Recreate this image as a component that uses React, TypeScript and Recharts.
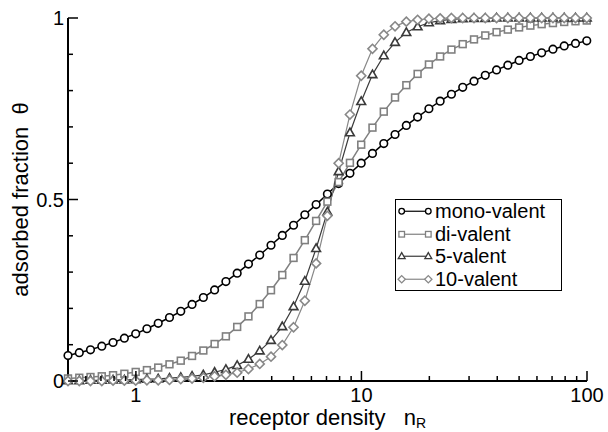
import React from 'react';
import { LineChart, Line, XAxis, YAxis, Legend } from 'recharts';

// receptor density n_R (log-spaced sample points)
const receptorDensity = [
    0.5, 0.561, 0.629, 0.706, 0.792, 0.889, 0.998, 1.119, 1.256, 1.409,
    1.581, 1.774, 1.991, 2.233, 2.506, 2.812, 3.155, 3.54, 3.972, 4.457,
    5.0, 5.61, 6.295, 7.063, 7.924, 8.891, 9.976, 11.19, 12.56, 14.09,
    15.81, 17.74, 19.91, 22.33, 25.06, 28.12, 31.55, 35.4, 39.72, 44.57,
    50.0, 56.1, 62.95, 70.63, 79.24, 88.91, 99.76,
];

const monoValent = [
    0.070, 0.078, 0.086, 0.096, 0.106, 0.118, 0.130, 0.144, 0.159, 0.175,
    0.192, 0.211, 0.230, 0.251, 0.274, 0.297, 0.322, 0.347, 0.374, 0.401,
    0.429, 0.458, 0.486, 0.515, 0.544, 0.572, 0.600, 0.627, 0.654, 0.679,
    0.704, 0.727, 0.750, 0.771, 0.790, 0.809, 0.826, 0.842, 0.857, 0.870,
    0.883, 0.894, 0.904, 0.914, 0.923, 0.930, 0.937,
];

const diValent = [
    0.007, 0.009, 0.011, 0.013, 0.016, 0.020, 0.025, 0.030, 0.037, 0.046,
    0.056, 0.069, 0.084, 0.102, 0.123, 0.149, 0.178, 0.212, 0.250, 0.292,
    0.339, 0.388, 0.441, 0.494, 0.548, 0.601, 0.651, 0.698, 0.742, 0.781,
    0.815, 0.846, 0.872, 0.894, 0.913, 0.928, 0.941, 0.952, 0.961, 0.968,
    0.974, 0.979, 0.983, 0.986, 0.989, 0.991, 0.993,
];

const fiveValent = [
    0.001, 0.001, 0.002, 0.002, 0.003, 0.003, 0.004, 0.005, 0.006, 0.008,
    0.010, 0.013, 0.017, 0.024, 0.032, 0.043, 0.060, 0.083, 0.112, 0.150,
    0.205, 0.275, 0.365, 0.466, 0.577, 0.684, 0.770, 0.844, 0.896, 0.933,
    0.960, 0.976, 0.987, 0.993, 0.996, 0.998, 0.999, 0.999, 1, 1,
    1, 1, 1, 1, 1, 1, 1,
];

const tenValent = [
    0, 0, 0, 0, 0.001, 0.001, 0.001, 0.002, 0.002, 0.003,
    0.005, 0.007, 0.009, 0.013, 0.017, 0.023, 0.033, 0.047, 0.067, 0.099,
    0.148, 0.221, 0.324, 0.455, 0.600, 0.734, 0.841, 0.915, 0.954, 0.977,
    0.990, 0.995, 0.998, 0.999, 1, 1, 1, 1, 1, 1,
    1, 1, 1, 1, 1, 1, 1,
];

const seriesNames = ['mono-valent', 'di-valent', '5-valent', '10-valent'];

const xTicks = [0.6, 0.7, 0.8, 0.9, 1, 2, 3, 4, 5, 6, 7, 8, 9, 10, 20, 30, 40, 50, 60, 70, 80, 90, 100];
const xMajorTicks = [1, 10, 100];
const yTicks = [0, 0.1, 0.2, 0.3, 0.4, 0.5, 0.6, 0.7, 0.8, 0.9, 1];
const yMajorTicks = [0, 0.5, 1];

const FONT = '"Liberation Sans", Arial, Helvetica, sans-serif';

const data = receptorDensity.map((x, i) => ({
    x,
    mono: monoValent[i],
    di: diValent[i],
    v5: fiveValent[i],
    v10: tenValent[i],
}));

const series = [
    { key: 'mono', name: seriesNames[0], color: '#000000', width: 1.5, shape: 'circle' },
    { key: 'di', name: seriesNames[1], color: '#808080', width: 1.5, shape: 'square' },
    { key: 'v5', name: seriesNames[2], color: '#3a3a3a', width: 1.2, shape: 'triangle' },
    { key: 'v10', name: seriesNames[3], color: '#888888', width: 1.2, shape: 'diamond' },
];

function marker(shape: string, cx: number, cy: number, s: number, color: string, sw: number, key: string) {
    if (cx == null || cy == null) return <g key={key} />;
    switch (shape) {
        case 'circle':
            return <circle key={key} cx={cx} cy={cy} r={s} fill="#fff" stroke={color} strokeWidth={sw} />;
        case 'square':
            return <rect key={key} x={cx - s} y={cy - s} width={2 * s} height={2 * s} fill="#fff" stroke={color} strokeWidth={sw} />;
        case 'triangle':
            return (
                <polygon
                    key={key}
                    points={`${cx},${cy - s * 1.2} ${cx - s * 1.15},${cy + s * 0.8} ${cx + s * 1.15},${cy + s * 0.8}`}
                    fill="#fff"
                    stroke={color}
                    strokeWidth={sw}
                />
            );
        default:
            return (
                <polygon
                    key={key}
                    points={`${cx},${cy - s * 1.3} ${cx + s * 1.3},${cy} ${cx},${cy + s * 1.3} ${cx - s * 1.3},${cy}`}
                    fill="#fff"
                    stroke={color}
                    strokeWidth={sw}
                />
            );
    }
}

const plotSize: Record<string, number> = { circle: 3.8, square: 3.4, triangle: 3.8, diamond: 3.5 };
const legendSize: Record<string, number> = { circle: 2.8, square: 2.8, triangle: 3, diamond: 2.8 };

const BottomTick = (props: any) => {
    const { x, y, payload } = props;
    const major = xMajorTicks.includes(payload.value);
    return (
        <g>
            <line x1={x} x2={x} y1={y} y2={y - (major ? 10 : 5)} stroke="#000" strokeWidth={1.5} />
            {major && (
                <text x={x} y={y + 21} textAnchor="middle" fontSize={20} fontFamily={FONT} fill="#000">
                    {payload.value}
                </text>
            )}
        </g>
    );
};

const TopTick = (props: any) => {
    const { x, y, payload } = props;
    const major = xMajorTicks.includes(payload.value);
    return <line x1={x} x2={x} y1={y} y2={y + (major ? 10 : 5)} stroke="#000" strokeWidth={1.5} />;
};

const LeftTick = (props: any) => {
    const { x, y, payload } = props;
    const major = yMajorTicks.includes(payload.value);
    return (
        <g>
            <line x1={x} x2={x + (major ? 10 : 5)} y1={y} y2={y} stroke="#000" strokeWidth={1.5} />
            {major && (
                <text x={x - 4} y={y + 7} textAnchor="end" fontSize={20} fontFamily={FONT} fill="#000">
                    {payload.value}
                </text>
            )}
        </g>
    );
};

const RightTick = (props: any) => {
    const { x, y, payload } = props;
    const major = yMajorTicks.includes(payload.value);
    return <line x1={x} x2={x - (major ? 10 : 5)} y1={y} y2={y} stroke="#000" strokeWidth={1.5} />;
};

const XLabel = (props: any) => {
    const vb = props.viewBox;
    return (
        <text
            x={vb.x + vb.width / 2}
            y={vb.y + 44}
            textAnchor="middle"
            fontSize={22}
            fontFamily={FONT}
            fill="#000"
            style={{ whiteSpace: 'pre' }}
        >
            {'receptor density   n'}
            <tspan fontSize={14} dy={3}>R</tspan>
        </text>
    );
};

const YLabel = (props: any) => {
    const vb = props.viewBox;
    const cx = vb.x + 27.5;
    const cy = vb.y + vb.height / 2;
    return (
        <text
            x={cx}
            y={cy}
            transform={`rotate(-90, ${cx}, ${cy})`}
            textAnchor="middle"
            fontSize={22}
            fontFamily={FONT}
            fill="#000"
            style={{ whiteSpace: 'pre' }}
        >
            {'adsorbed fraction  θ'}
        </text>
    );
};

const renderLegend = () => (
    <div
        style={{
            border: '1px solid #000',
            background: '#fff',
            boxSizing: 'border-box',
            width: 167,
            height: 92,
            fontFamily: FONT,
        }}
    >
        {series.map(s => (
            <div key={s.key} style={{ display: 'flex', alignItems: 'center', height: 22.5 }}>
                <svg width={39} height={22.5} style={{ display: 'block' }}>
                    <line x1={5.7} x2={32.3} y1={11.25} y2={11.25} stroke={s.color} strokeWidth={1.2} />
                    {marker(s.shape, 5.7, 11.25, legendSize[s.shape], s.color, 1.3, 'a')}
                    {marker(s.shape, 32.3, 11.25, legendSize[s.shape], s.color, 1.3, 'b')}
                </svg>
                <span style={{ fontSize: 20, lineHeight: '22.5px', color: '#000' }}>{s.name}</span>
            </div>
        ))}
    </div>
);

export default function App() {
    return (
        <div style={{ position: 'absolute', left: 0, top: 0, width: 608, height: 432, background: '#fff' }}>
            <LineChart width={608} height={432} data={data} margin={{ top: 18, right: 21, bottom: 0, left: 0 }}>
                <XAxis
                    dataKey="x"
                    type="number"
                    scale="log"
                    domain={[0.5, 100]}
                    ticks={xTicks}
                    interval={0}
                    height={51}
                    tickLine={false}
                    tickSize={0}
                    tickMargin={0}
                    axisLine={{ stroke: '#000', strokeWidth: 2 }}
                    tick={BottomTick}
                    label={{ content: XLabel }}
                />
                <XAxis
                    xAxisId="top"
                    orientation="top"
                    dataKey="x"
                    type="number"
                    scale="log"
                    domain={[0.5, 100]}
                    ticks={xTicks}
                    interval={0}
                    height={0}
                    tickLine={false}
                    tickSize={0}
                    tickMargin={0}
                    axisLine={{ stroke: '#000', strokeWidth: 2 }}
                    tick={TopTick}
                />
                <YAxis
                    type="number"
                    domain={[0, 1]}
                    ticks={yTicks}
                    interval={0}
                    width={68}
                    tickLine={false}
                    tickSize={0}
                    tickMargin={0}
                    axisLine={{ stroke: '#000', strokeWidth: 2 }}
                    tick={LeftTick}
                    label={{ content: YLabel }}
                />
                <YAxis
                    yAxisId="right"
                    orientation="right"
                    type="number"
                    domain={[0, 1]}
                    ticks={yTicks}
                    interval={0}
                    width={0}
                    tickLine={false}
                    tickSize={0}
                    tickMargin={0}
                    axisLine={{ stroke: '#000', strokeWidth: 2 }}
                    tick={RightTick}
                />
                {series.map(s => (
                    <Line
                        key={s.key}
                        dataKey={s.key}
                        name={s.name}
                        type="linear"
                        stroke={s.color}
                        strokeWidth={s.width}
                        isAnimationActive={false}
                        activeDot={false}
                        dot={(p: any) =>
                            marker(s.shape, p.cx, p.cy, plotSize[s.shape], s.color, 1.6, `${s.key}-${p.index}`)
                        }
                    />
                ))}
                <Legend
                    layout="vertical"
                    align="center"
                    verticalAlign="middle"
                    content={renderLegend}
                    wrapperStyle={{ left: 395, top: 199, width: 167, height: 92 }}
                />
            </LineChart>
        </div>
    );
}
